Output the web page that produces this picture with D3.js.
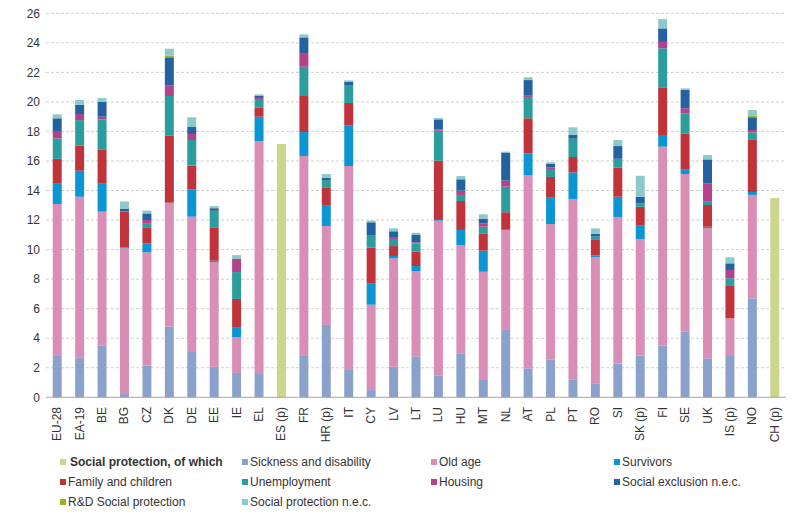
<!DOCTYPE html>
<html><head><meta charset="utf-8">
<script src="https://cdn.jsdelivr.net/npm/d3@7"></script>
<style>body{margin:0;background:#fff}svg{display:block;font-family:"Liberation Sans",Arial,sans-serif}</style>
</head><body><svg id="c" width="800" height="517"></svg>
<script>
const categories = ["EU-28","EA-19","BE","BG","CZ","DK","DE","EE","IE","EL","ES (p)","FR","HR (p)","IT","CY","LV","LT","LU","HU","MT","NL","AT","PL","PT","RO","SI","SK (p)","FI","SE","UK","IS (p)","NO","CH (p)"];
const socialProtection = [0,0,0,0,0,0,0,0,0,0,17.15,0,0,0,0,0,0,0,0,0,0,0,0,0,0,0,0,0,0,0,0,0,13.49];
const sickness = [2.80,2.71,3.49,0.22,2.14,4.78,3.07,2.07,1.65,1.58,0,2.80,4.90,1.85,0.49,2.07,2.75,1.46,2.98,1.17,4.56,1.96,2.57,1.22,0.95,2.28,2.82,3.49,4.44,2.64,2.86,6.70,0];
const oldAge = [10.29,10.87,9.08,9.87,7.68,8.35,9.16,7.09,2.41,15.75,0,13.54,6.70,13.81,5.78,7.34,5.80,10.50,7.33,7.33,6.77,13.09,9.16,12.21,8.53,9.93,7.90,13.48,10.68,8.82,2.49,7.00,0];
const survivors = [1.37,1.76,1.89,0.05,0.61,0.05,1.85,0.09,0.65,1.67,0,1.62,1.37,2.73,1.42,0.16,0.34,0.05,1.02,1.43,0.06,1.47,1.78,1.80,0.13,1.37,0.90,0.79,0.29,0.09,0,0.20,0];
const family = [1.69,1.69,2.33,2.45,1.08,4.53,1.60,2.26,1.95,0.63,0,2.44,1.25,1.54,2.44,0.67,0.97,4.01,1.96,1.17,1.14,2.37,1.41,1.04,1.09,1.97,1.28,3.23,2.46,1.47,2.19,3.57,0];
const unemployment = [1.38,1.74,2.03,0.02,0.24,2.69,1.74,1.12,1.82,0.57,0,1.98,0.49,1.15,0.86,0.48,0.56,2.03,0.41,0.45,1.73,1.39,0.54,1.24,0.18,0.60,0.23,2.64,1.36,0.22,0.52,0.47,0];
const housing = [0.50,0.41,0.18,0,0.25,0.70,0.41,0,0.82,0.07,0,0.93,0,0.06,0,0.13,0.07,0.09,0.29,0.23,0.41,0.14,0.09,0,0,0,0,0.43,0.34,1.25,0.56,0.16,0];
const socialExclusion = [0.86,0.63,1.01,0.14,0.45,1.92,0.47,0.17,0.06,0.13,0,1.06,0.16,0.23,0.86,0.39,0.50,0.68,0.77,0.29,1.90,1.06,0.25,0.27,0.18,0.86,0.45,0.92,1.24,1.62,0.45,0.86,0];
const rdSocial = [0,0,0,0,0,0.11,0,0.06,0,0,0,0,0,0,0,0,0,0,0,0,0,0,0,0,0,0,0,0,0,0,0,0.09,0];
const spNec = [0.27,0.32,0.25,0.51,0.19,0.47,0.66,0.09,0.27,0.11,0,0.20,0.25,0.09,0.11,0.20,0.15,0.09,0.22,0.32,0.06,0.19,0.11,0.50,0.38,0.41,1.42,0.63,0.11,0.29,0.41,0.40,0];
const yTicks = [0,2,4,6,8,10,12,14,16,18,20,22,24,26];

const seriesNames = ["Social protection, of which","Sickness and disability","Old age","Survivors","Family and children","Unemployment","Housing","Social exclusion n.e.c.","R&D Social protection","Social protection n.e.c."];
const seriesData = [socialProtection,sickness,oldAge,survivors,family,unemployment,housing,socialExclusion,rdSocial,spNec];
const colors = ["#CDD58A","#8AA2CB","#D98EB6","#0A96D2","#C0333A","#2A9D9C","#B4418A","#2461A1","#9DAF22","#8CCACA"];

const svg = d3.select("#c");
const x = d3.scaleBand().domain(categories).range([46,786]).paddingInner(0.6).paddingOuter(0.3);
const y = d3.scaleLinear().domain([0,26]).range([397.3,13.3]);

// gridlines
svg.append("g").selectAll("line").data(yTicks.filter(d=>d>0)).join("line")
  .attr("x1",46).attr("x2",786).attr("y1",d=>y(d)).attr("y2",d=>y(d))
  .attr("stroke","#cfcfcf").attr("stroke-width",1).attr("stroke-dasharray","3,2");

// y axis labels
svg.append("g").selectAll("text").data(yTicks).join("text")
  .attr("x",40).attr("y",d=>y(d)).attr("dy","0.35em").attr("text-anchor","end")
  .attr("font-size",12).attr("fill","#333").text(d=>d);

// stacked data
const rows = categories.map((c,i)=>{const r={cat:c}; seriesNames.forEach((s,k)=>r[s]=seriesData[k][i]); return r;});
const stack = d3.stack().keys(seriesNames)(rows);
svg.append("g").selectAll("g").data(stack).join("g").attr("fill",(d,i)=>colors[i])
  .selectAll("rect").data(d=>d).join("rect")
  .attr("x",d=>x(d.data.cat)).attr("width",x.bandwidth())
  .attr("y",d=>y(d[1])).attr("height",d=>Math.max(0,y(d[0])-y(d[1])));

// x axis line
svg.append("line").attr("x1",46).attr("x2",786).attr("y1",y(0)).attr("y2",y(0)).attr("stroke","#a6a6a6");

// x labels
svg.append("g").selectAll("text").data(categories).join("text")
  .attr("transform",d=>`translate(${x(d)+x.bandwidth()/2+4},407) rotate(-90)`)
  .attr("text-anchor","end").attr("font-size",12).attr("fill","#333").text(d=>d);

// legend
const colX = [60,242,431,614], rowY = [462,482,502];
const lg = svg.append("g").selectAll("g").data(seriesNames).join("g")
  .attr("transform",(d,i)=>`translate(${colX[i%4]},${rowY[Math.floor(i/4)]})`);
lg.append("rect").attr("x",0).attr("y",-3).attr("width",6).attr("height",6).attr("fill",(d,i)=>colors[i]);
lg.append("text").attr("x",(d,i)=>i===0?10:8).attr("dy","0.35em").attr("font-size",12).attr("fill","#333")
  .attr("font-weight",(d,i)=>i===0?"bold":"normal").text(d=>d);
</script></body></html>
